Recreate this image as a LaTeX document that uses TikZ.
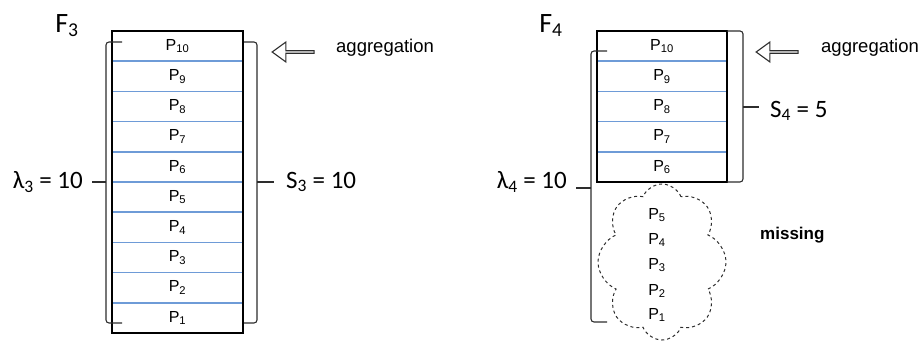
\documentclass[tikz,border=0pt]{standalone}
\usepackage{fontspec}
\setmainfont{Liberation Sans}
\newfontfamily\calib{Carlito}
\usetikzlibrary{positioning,shapes.symbols,shapes.arrows}
\definecolor{rowblue}{RGB}{110,155,215}
\definecolor{inkgray}{RGB}{45,45,45}

\begin{document}
\begin{tikzpicture}[x=1pt,y=-1pt,node distance=0pt,every node/.style={font=\fontsize{16}{18}\selectfont}]
\tikzstyle{row}=[draw=rowblue,line width=1.5pt,minimum width=131pt,minimum height=30.2pt,inner sep=0pt,outer sep=0pt]
\tikzstyle{big}=[font=\calib\fontsize{25}{27}\selectfont,inner sep=0pt]
\tikzstyle{ttl}=[font=\calib\fontsize{28}{30}\selectfont,inner sep=0pt]
\tikzstyle{txt}=[font=\fontsize{18.5}{21}\selectfont,inner sep=0pt]
\tikzstyle{brk}=[inkgray,line width=1.1pt,rounded corners=3pt]
\tikzstyle{harrow}=[single arrow,draw=inkgray,line width=1.1pt,shape border rotate=180,minimum height=42pt,minimum width=20pt,single arrow head extend=4pt,single arrow tip angle=72,inner sep=0pt]
\useasboundingbox (0,0) rectangle (921,344);
% F3: all ten pages present
\node[ttl] (f3) at (67,26) {F\textsubscript{3}};
\node[row] (p10) at (177.5,46.1) {P\textsubscript{10}};
\node[row,below=of p10] (p9) {P\textsubscript{9}};
\node[row,below=of p9] (p8) {P\textsubscript{8}};
\node[row,below=of p8] (p7) {P\textsubscript{7}};
\node[row,below=of p7] (p6) {P\textsubscript{6}};
\node[row,below=of p6] (p5) {P\textsubscript{5}};
\node[row,below=of p5] (p4) {P\textsubscript{4}};
\node[row,below=of p4] (p3) {P\textsubscript{3}};
\node[row,below=of p3] (p2) {P\textsubscript{2}};
\node[row,below=of p2] (p1) {P\textsubscript{1}};
\draw[line width=1.4pt] (p10.north west) rectangle (p1.south east);
\draw[brk] (122,42) -| (106,323) -- (122,323);
\draw[brk] (106,182) -- (92,182);
\draw[brk] (244,42) -| (257,323) -- (244,323);
\draw[brk] (257,182) -- (274,182);
\node[big,anchor=east] (lam3) at (83,182) {λ\textsubscript{3} = 10};
\node[big,anchor=west] (s3) at (286,182) {S\textsubscript{3} = 10};
\node[harrow] (ag3) at (294,52) {};
\node[txt,anchor=west] (agt3) at (336,48) {aggregation};
% F4: only the five newest pages kept
\node[ttl] (f4) at (551,26) {F\textsubscript{4}};
\node[row,minimum width=130pt] (q10) at (662,46.1) {P\textsubscript{10}};
\node[row,minimum width=130pt,below=of q10] (q9) {P\textsubscript{9}};
\node[row,minimum width=130pt,below=of q9] (q8) {P\textsubscript{8}};
\node[row,minimum width=130pt,below=of q8] (q7) {P\textsubscript{7}};
\node[row,minimum width=130pt,below=of q7] (q6) {P\textsubscript{6}};
\draw[line width=1.4pt] (q10.north west) rectangle (q6.south east);
\node[cloud,draw=inkgray,dashed,line width=1pt,cloud puffs=8,cloud puff arc=135,cloud ignores aspect,minimum width=128pt,minimum height=156pt] (miss) at (662,262) {};
\node (m5) at (657,215) {P\textsubscript{5}};
\node (m4) at (657,240) {P\textsubscript{4}};
\node (m3) at (657,265) {P\textsubscript{3}};
\node (m2) at (657,291) {P\textsubscript{2}};
\node (m1) at (657,315) {P\textsubscript{1}};
\draw[brk] (607,51) -| (591,322) -- (607,322);
\draw[brk] (591,188) -- (576,188);
\draw[brk] (727,31) -| (743,182) -- (727,182);
\draw[brk] (743,107) -- (759,107);
\node[big,anchor=east] (lam4) at (567,182) {λ\textsubscript{4} = 10};
\node[big,anchor=west] (s4) at (770,111) {S\textsubscript{4} = 5};
\node[harrow] (ag4) at (778,52) {};
\node[txt,anchor=west] (agt4) at (821,48) {aggregation};
\node[txt,font=\bfseries\fontsize{17}{19}\selectfont,anchor=west] (mtxt) at (760,235) {missing};
\end{tikzpicture}
\end{document}
